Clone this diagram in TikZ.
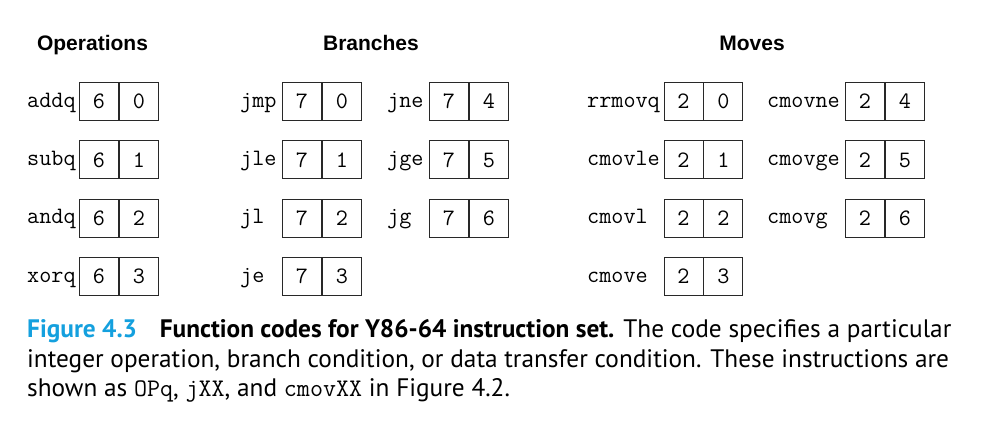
\documentclass[tikz,border=0pt]{standalone}
\usepackage{fontspec}
\newfontfamily\headfont{Liberation Sans}
\newfontfamily\capfont{PT Sans}
\definecolor{figcyan}{RGB}{20,160,222}
\definecolor{boxline}{RGB}{40,40,40}
\newcommand\fcode[7]{% name, label x, box x, box top, label, digit1, digit2
  \node[lbl, anchor=base west] (#1-l) at (#2,#4+25) {#5};
  \node[cell] (#1-a) at (#3,#4) {#6};
  \node[cell] (#1-b) at (#1-a.north east) {#7};
}
\begin{document}
\begin{tikzpicture}[x=1pt,y=-1pt,
  cell/.style={draw=boxline, line width=0.9pt, minimum width=39pt, minimum height=38pt,
    inner sep=0pt, anchor=north west, font=\fontsize{23.5}{28}\selectfont\ttfamily,
    text height=15pt, text depth=0pt},
  lbl/.style={inner sep=0pt, font=\fontsize{23.5}{28}\selectfont\ttfamily},
  head/.style={inner sep=0pt, anchor=base, font=\fontsize{21}{25}\selectfont\headfont\bfseries},
  capline/.style={inner sep=0pt, anchor=base west, font=\fontsize{25.3}{30}\selectfont\capfont}]
\useasboundingbox (0,0) rectangle (981,432);
\node[head] (hops) at (92.5,50) {Operations};
\node[head] (hbr) at (371,50) {Branches};
\node[head] (hmv) at (752,50) {Moves};
% Operations
\fcode{addq}{27}{79}{82}{addq}{6}{0}
\fcode{subq}{27}{79}{140.3}{subq}{6}{1}
\fcode{andq}{27}{79}{198.6}{andq}{6}{2}
\fcode{xorq}{27}{79}{257}{xorq}{6}{3}
% Branches
\fcode{jmp}{240}{282}{82}{jmp}{7}{0}
\fcode{jle}{240}{282}{140.3}{jle}{7}{1}
\fcode{jl}{240}{282}{198.6}{jl}{7}{2}
\fcode{je}{240}{282}{257}{je}{7}{3}
\fcode{jne}{387}{429}{82}{jne}{7}{4}
\fcode{jge}{387}{429}{140.3}{jge}{7}{5}
\fcode{jg}{387}{429}{198.6}{jg}{7}{6}
% Moves
\fcode{rrmovq}{587}{663.5}{82}{rrmovq}{2}{0}
\fcode{cmovle}{587}{663.5}{140.3}{cmovle}{2}{1}
\fcode{cmovl}{587}{663.5}{198.6}{cmovl}{2}{2}
\fcode{cmove}{587}{663.5}{257}{cmove}{2}{3}
\fcode{cmovne}{767}{845}{82}{cmovne}{2}{4}
\fcode{cmovge}{767}{845}{140.3}{cmovge}{2}{5}
\fcode{cmovg}{767}{845}{198.6}{cmovg}{2}{6}
% Caption
\node[capline] (cap1) at (27,337.3) {{\bfseries\color{figcyan}Figure 4.3}\hspace{0.9em}{\bfseries Function codes for Y86-64 instruction set.} The code specifies a particular};
\node[capline] (cap2) at (27,367.3) {integer operation, branch condition, or data transfer condition. These instructions are};
\node[capline] (cap3) at (27,396.7) {shown as {\ttfamily OPq}, {\ttfamily jXX}, and {\ttfamily cmovXX} in Figure 4.2.};
\end{tikzpicture}
\end{document}
